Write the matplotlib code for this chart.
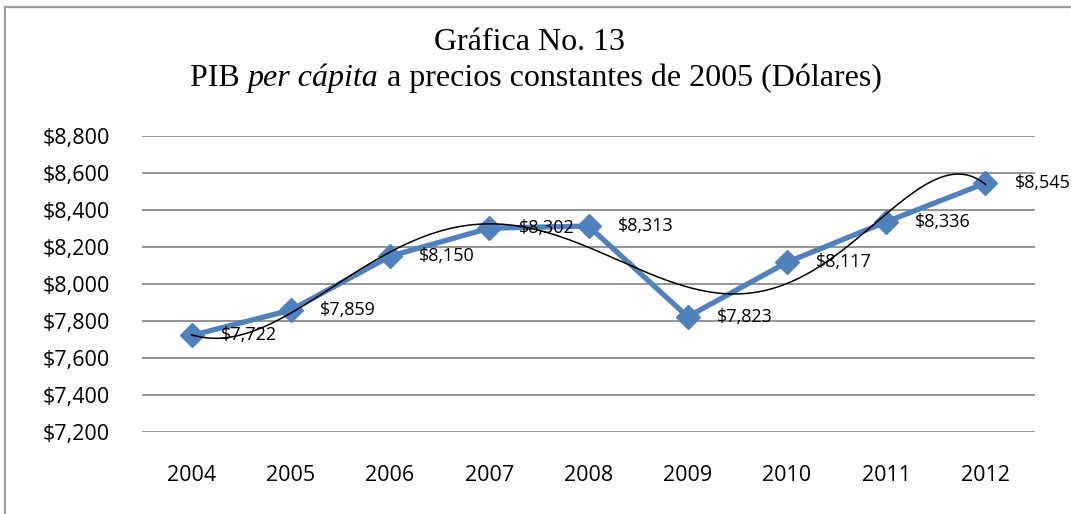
import matplotlib
matplotlib.use("Agg")
import matplotlib.pyplot as plt
from matplotlib.lines import Line2D
import numpy as np

years = ['2004', '2005', '2006', '2007', '2008', '2009', '2010', '2011', '2012']
pib = [7722, 7859, 8150, 8302, 8313, 7823, 8117, 8336, 8545]
yticks = [7200, 7400, 7600, 7800, 8000, 8200, 8400, 8600, 8800]

blue = '#4F81BD'
W, H = 1071, 514
fig = plt.figure(figsize=(W / 100, H / 100), dpi=100)
ax = fig.add_axes([142 / W, 1 - 432 / H, (1035 - 142) / W, (432 - 136) / H])

x = np.arange(len(years))
ax.plot(x, pib, color=blue, lw=3.8, marker='D', ms=12, zorder=3)

# polynomial trendline (as in the spreadsheet)
coef = np.polyfit(x, pib, 6)
xs = np.linspace(0, len(years) - 1, 300)
ax.plot(xs, np.polyval(coef, xs), color='black', lw=1.1, zorder=4)

for xi, v in zip(x, pib):
    ax.annotate('${:,}'.format(v), (xi, v), xytext=(21, 0), textcoords='offset points',
                ha='left', va='center', fontsize=13, family='Open Sans',
                annotation_clip=False, zorder=5)

ax.set_xlim(-0.5, len(years) - 0.5)
ax.set_ylim(7200, 8800)
ax.set_xticks(x)
ax.set_xticklabels(years, family='Open Sans', fontsize=15.5)
ax.set_yticks(yticks)
ax.set_yticklabels(['${:,}'.format(t) for t in yticks], family='Open Sans', fontsize=15.5)
ax.tick_params(length=0)
ax.tick_params(axis='y', pad=23)
ax.tick_params(axis='x', pad=24)
ax.grid(axis='y', color='#8C8C8C', lw=1.3)
ax.set_axisbelow(True)
for s in ax.spines.values():
    s.set_visible(False)

# outer frame
fig.add_artist(Line2D([5 / W, 1], [1 - 7 / H, 1 - 7 / H], color='#A0A0A0', lw=1.6, transform=fig.transFigure))
fig.add_artist(Line2D([5 / W, 5 / W], [0, 1 - 7 / H], color='#A0A0A0', lw=1.6, transform=fig.transFigure))

# title
tfont = dict(family='Liberation Serif', fontsize=23)
fig.text(530 / W, 1 - 43 / H, 'Gráfica No. 13', ha='center', va='center', **tfont)
parts = [('PIB ', 'normal'), ('per cápita', 'italic'), (' a precios constantes de 2005 (Dólares)', 'normal')]
fig.canvas.draw()
r = fig.canvas.get_renderer()
texts = []
for s, st in parts:
    t = fig.text(0, 1 - 78 / H, s, ha='left', va='center', style=st, **tfont)
    texts.append(t)
widths = [t.get_window_extent(r).width for t in texts]
x0 = 536 - sum(widths) / 2
for t, w in zip(texts, widths):
    t.set_x(x0 / W)
    x0 += w

fig.savefig('out.png', dpi=100)
